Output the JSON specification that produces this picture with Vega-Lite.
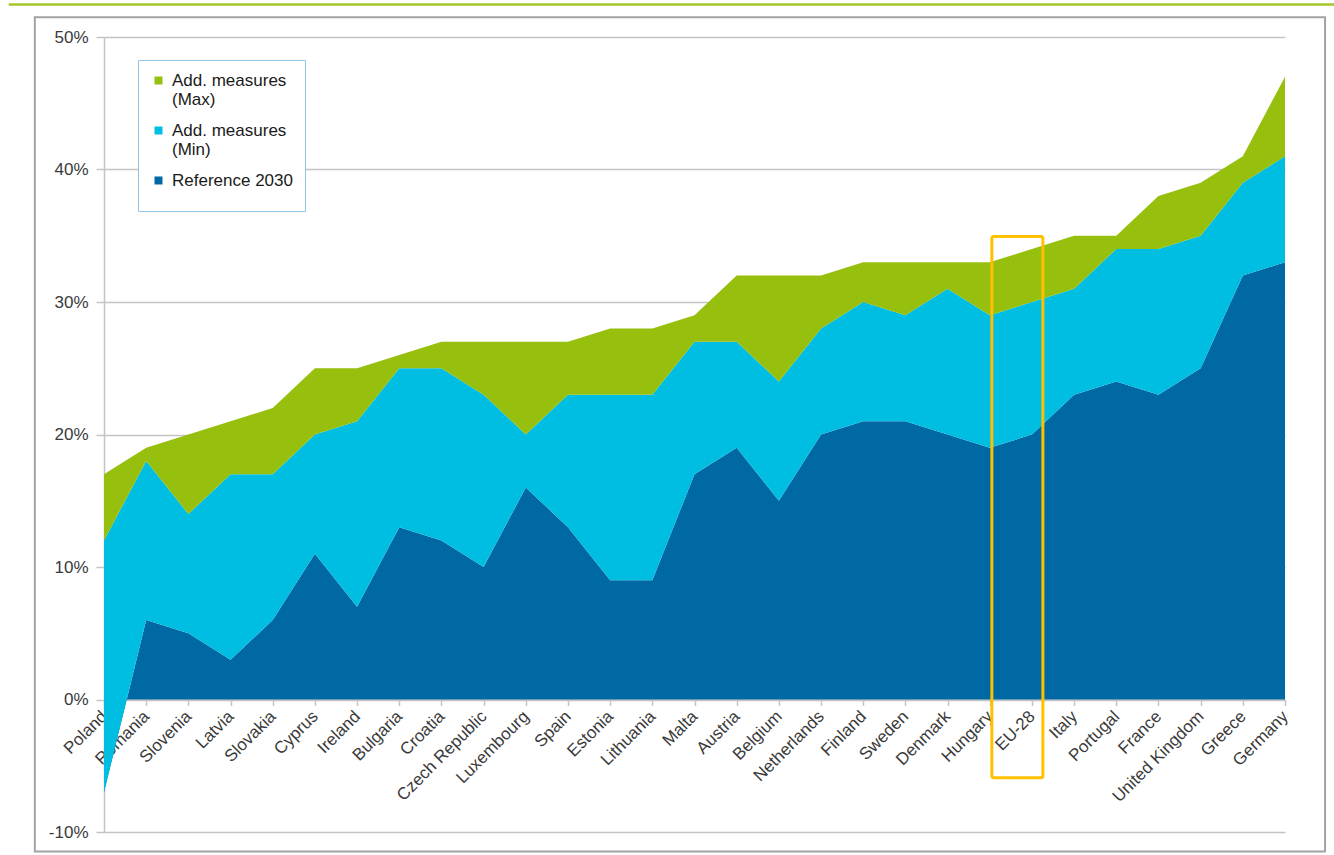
{
  "$schema": "https://vega.github.io/schema/vega-lite/v6.json",
  "width": 1181,
  "height": 795,
  "autosize": "none",
  "padding": {"left": 104, "top": 37, "right": 49, "bottom": 23},
  "background": "white",
  "config": {
    "view": {"stroke": null},
    "font": "Liberation Sans"
  },
  "datasets": {
    "shares": [
      {"country": "Poland", "ref": -7, "min": 12, "max": 17},
      {"country": "Romania", "ref": 6, "min": 18, "max": 19},
      {"country": "Slovenia", "ref": 5, "min": 14, "max": 20},
      {"country": "Latvia", "ref": 3, "min": 17, "max": 21},
      {"country": "Slovakia", "ref": 6, "min": 17, "max": 22},
      {"country": "Cyprus", "ref": 11, "min": 20, "max": 25},
      {"country": "Ireland", "ref": 7, "min": 21, "max": 25},
      {"country": "Bulgaria", "ref": 13, "min": 25, "max": 26},
      {"country": "Croatia", "ref": 12, "min": 25, "max": 27},
      {"country": "Czech Republic", "ref": 10, "min": 23, "max": 27},
      {"country": "Luxembourg", "ref": 16, "min": 20, "max": 27},
      {"country": "Spain", "ref": 13, "min": 23, "max": 27},
      {"country": "Estonia", "ref": 9, "min": 23, "max": 28},
      {"country": "Lithuania", "ref": 9, "min": 23, "max": 28},
      {"country": "Malta", "ref": 17, "min": 27, "max": 29},
      {"country": "Austria", "ref": 19, "min": 27, "max": 32},
      {"country": "Belgium", "ref": 15, "min": 24, "max": 32},
      {"country": "Netherlands", "ref": 20, "min": 28, "max": 32},
      {"country": "Finland", "ref": 21, "min": 30, "max": 33},
      {"country": "Sweden", "ref": 21, "min": 29, "max": 33},
      {"country": "Denmark", "ref": 20, "min": 31, "max": 33},
      {"country": "Hungary", "ref": 19, "min": 29, "max": 33},
      {"country": "EU-28", "ref": 20, "min": 30, "max": 34},
      {"country": "Italy", "ref": 23, "min": 31, "max": 35},
      {"country": "Portugal", "ref": 24, "min": 34, "max": 35},
      {"country": "France", "ref": 23, "min": 34, "max": 38},
      {"country": "United Kingdom", "ref": 25, "min": 35, "max": 39},
      {"country": "Greece", "ref": 32, "min": 39, "max": 41},
      {"country": "Germany", "ref": 33, "min": 41, "max": 47}
    ]
  },
  "layer": [
    {
      "data": {"name": "shares"},
      "encoding": {
        "x": {
          "field": "country",
          "type": "nominal",
          "sort": null,
          "scale": {"type": "point", "padding": 0},
          "axis": {
            "title": null,
            "offset": -132.5,
            "labelAngle": -45,
            "labelAlign": "right",
            "labelBaseline": "middle",
            "labelFontSize": 17,
            "labelColor": "#3a3a3a",
            "labelPadding": 8,
            "labelOverlap": false,
            "labelBound": false,
            "domainColor": "#c4c4c4",
            "domainWidth": 1.5,
            "tickColor": "#c4c4c4",
            "tickWidth": 1.5,
            "tickSize": 6,
            "grid": false
          }
        }
      },
      "layer": [
        {
          "mark": {"type": "area", "opacity": 1},
          "encoding": {
            "y": {
              "field": "ref",
              "type": "quantitative",
              "scale": {"domain": [-10, 50], "nice": false, "zero": false},
              "axis": {
                "title": null,
                "values": [-10, 0, 10, 20, 30, 40, 50],
                "labelExpr": "datum.value + '%'",
                "labelFontSize": 17,
                "labelColor": "#3a3a3a",
                "labelPadding": 8,
                "grid": true,
                "gridColor": "#c4c4c4",
                "gridWidth": 1.5,
                "domainColor": "#c4c4c4",
                "domainWidth": 1.5,
                "tickColor": "#c4c4c4",
                "tickWidth": 1.5,
                "tickSize": 8
              }
            },
            "y2": {"datum": 0},
            "color": {
              "datum": "Reference 2030",
              "type": "nominal",
              "scale": {
                "domain": ["Add. measures (Max)", "Add. measures (Min)", "Reference 2030"],
                "range": ["#97bf0d", "#00bde2", "#0068a3"]
              },
              "legend": {
                "title": " ",
                "titleOrient": "bottom",
                "titleFontSize": 8,
                "titlePadding": 2,
                "orient": "none",
                "legendX": 34,
                "legendY": 23,
                "symbolType": "square",
                "symbolSize": 64,
                "symbolStrokeWidth": 0,
                "labelFontSize": 17,
                "labelColor": "#1a1a1a",
                "labelLineHeight": 20,
                "labelBaseline": "middle",
                "labelOffset": 5,
                "rowPadding": 13,
                "padding": 12,
                "strokeColor": "#93c5e2",
                "fillColor": "white",
                "labelExpr": "indexof(datum.label, '(') > 0 ? ['Add. measures', substring(datum.label, 14)] : datum.label"
              }
            }
          }
        },
        {
          "mark": {"type": "area", "opacity": 1},
          "encoding": {
            "y": {"field": "min", "type": "quantitative"},
            "y2": {"field": "ref"},
            "color": {"datum": "Add. measures (Min)", "type": "nominal"}
          }
        },
        {
          "mark": {"type": "area", "opacity": 1},
          "encoding": {
            "y": {"field": "max", "type": "quantitative"},
            "y2": {"field": "min"},
            "color": {"datum": "Add. measures (Max)", "type": "nominal"}
          }
        }
      ]
    },
    {
      "data": {"values": [{}]},
      "layer": [
        {
          "mark": {"type": "rect", "fill": null, "stroke": "#a3a3a3", "strokeWidth": 2},
          "encoding": {
            "x": {"datum": -1.64, "type": "quantitative", "scale": {"domain": [0, 28], "nice": false, "zero": false}, "axis": null},
            "x2": {"datum": 28.95},
            "y": {"datum": 51.5, "type": "quantitative"},
            "y2": {"datum": -11.47}
          }
        },
        {
          "mark": {"type": "rule", "stroke": "#a3c72a", "strokeWidth": 2.5},
          "encoding": {
            "x": {"datum": -2.26, "type": "quantitative"},
            "x2": {"datum": 29.2},
            "y": {"datum": 52.45, "type": "quantitative"}
          }
        },
        {
          "mark": {"type": "rect", "fill": null, "stroke": "#ffc000", "strokeWidth": 3, "cornerRadius": 2},
          "encoding": {
            "x": {"datum": 21.05, "type": "quantitative"},
            "x2": {"datum": 22.26},
            "y": {"datum": 34.95, "type": "quantitative"},
            "y2": {"datum": -5.9}
          }
        }
      ]
    }
  ],
  "resolve": {"scale": {"x": "independent"}}
}
